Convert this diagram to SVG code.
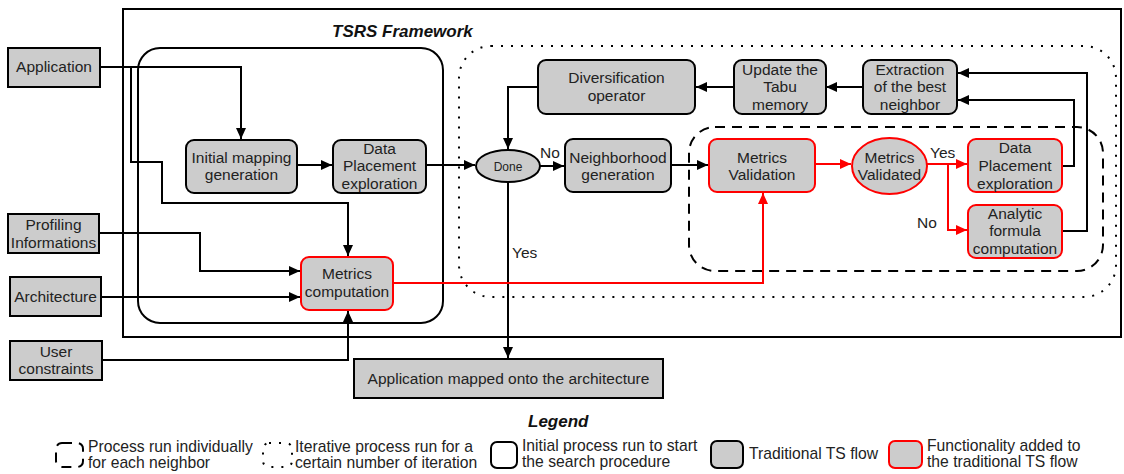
<svg xmlns="http://www.w3.org/2000/svg" width="1124" height="474" viewBox="0 0 1124 474">
<defs>
<marker id="ab" markerUnits="userSpaceOnUse" markerWidth="12" markerHeight="10" refX="11" refY="5" orient="auto"><path d="M0,0 L11,5 L0,10 Z" fill="#000"/></marker>
<marker id="ar" markerUnits="userSpaceOnUse" markerWidth="12" markerHeight="10" refX="11" refY="5" orient="auto"><path d="M0,0 L11,5 L0,10 Z" fill="#f00"/></marker>
</defs>
<style>
text{font-family:"Liberation Sans",Arial,sans-serif;font-size:15.5px;fill:#222}
.c{text-anchor:middle}
.t{font-weight:bold;font-style:italic;font-size:17px;fill:#111}
.box{fill:#ccc;stroke:#000;stroke-width:2}
.rbox{fill:#ccc;stroke:#f00;stroke-width:2}
.ln{fill:none;stroke:#000;stroke-width:2}
.rl{fill:none;stroke:#f00;stroke-width:2}
.dot{fill:none;stroke:#000;stroke-width:2;stroke-dasharray:2 8}
.dash{fill:none;stroke:#000;stroke-width:2;stroke-dasharray:10 7}
.lg{font-size:15.7px}
</style>
<g id="frame">
<rect x="123" y="9" width="998" height="328" fill="none" stroke="#000" stroke-width="2"/>
<text class="t" x="332" y="37">TSRS Framework</text>
<rect x="138" y="48" width="305" height="275" rx="22" fill="none" stroke="#000" stroke-width="2"/>
<rect x="459" y="46" width="657" height="251" rx="32" class="dot"/>
<rect x="689" y="127" width="414" height="144" rx="26" class="dash"/>
</g>
<g id="connectors">
<path class="ln" d="M100,67 H241 V139" marker-end="url(#ab)"/>
<path class="ln" d="M131,67 V162 H162 V203 H348 V256" marker-end="url(#ab)"/>
<path class="ln" d="M99,233 H200 V271 H300" marker-end="url(#ab)"/>
<path class="ln" d="M101,297 H300" marker-end="url(#ab)"/>
<path class="ln" d="M102,360 H348 V311" marker-end="url(#ab)"/>
<path class="ln" d="M297,165 H332" marker-end="url(#ab)"/>
<path class="ln" d="M426,165 H475" marker-end="url(#ab)"/>
<path class="ln" d="M540,166 H564" marker-end="url(#ab)"/>
<path class="ln" d="M671,165 H708" marker-end="url(#ab)"/>
<path class="rl" d="M815,164 H851" marker-end="url(#ar)"/>
<path class="rl" d="M927,164 H967" marker-end="url(#ar)"/>
<path class="rl" d="M948,164 V230 H967" marker-end="url(#ar)"/>
<path class="ln" d="M1062,166 H1074 V100 H958" marker-end="url(#ab)"/>
<path class="ln" d="M1062,231 H1087 V73 H958" marker-end="url(#ab)"/>
<path class="ln" d="M863,87 H826" marker-end="url(#ab)"/>
<path class="ln" d="M734,87 H696" marker-end="url(#ab)"/>
<path class="ln" d="M538,87 H508 V149" marker-end="url(#ab)"/>
<path class="ln" d="M508,182 V358" marker-end="url(#ab)"/>
<path class="rl" d="M393,283 H763 V193" marker-end="url(#ar)"/>
<text x="540" y="158">No</text>
<text x="512" y="258">Yes</text>
<text x="930" y="158">Yes</text>
<text x="917" y="228">No</text>
</g>
<g id="application"><rect class="box" x="8" y="48" width="92" height="39"/><text class="c" x="54" y="72">Application</text></g>
<g id="profiling"><rect class="box" x="8" y="214" width="91" height="39"/><text class="c" x="53.5" y="229.5">Profiling<tspan x="53.5" dy="18">Informations</tspan></text></g>
<g id="architecture"><rect class="box" x="10" y="277" width="91" height="39"/><text class="c" x="55.5" y="302">Architecture</text></g>
<g id="userconstraints"><rect class="box" x="10" y="341" width="92" height="39"/><text class="c" x="56" y="356.5">User<tspan x="56" dy="17">constraints</tspan></text></g>
<g id="initialmapping"><rect class="box" x="186" y="140" width="111" height="53" rx="8"/><text class="c" x="241.5" y="162.5">Initial mapping<tspan x="241.5" dy="17.5">generation</tspan></text></g>
<g id="dataplacement1"><rect class="box" x="333" y="140" width="93" height="53" rx="8"/><text class="c" x="379.5" y="153.5">Data<tspan x="379.5" dy="17.5">Placement</tspan><tspan x="379.5" dy="17.5">exploration</tspan></text></g>
<g id="metricscomputation"><rect class="rbox" x="301" y="257" width="92" height="53" rx="8"/><text class="c" x="347" y="278.5">Metrics<tspan x="347" dy="18">computation</tspan></text></g>
<g id="appmapped"><rect class="box" x="354" y="359" width="309" height="39"/><text class="c" x="508.5" y="383.5">Application mapped onto the architecture</text></g>
<g id="diversification"><rect class="box" x="538" y="60" width="157" height="54" rx="8"/><text class="c" x="616.5" y="82.5">Diversification<tspan x="616.5" dy="18">operator</tspan></text></g>
<g id="updatetabu"><rect class="box" x="734" y="60" width="92" height="54" rx="8"/><text class="c" x="780" y="74.5">Update the<tspan x="780" dy="17.5">Tabu</tspan><tspan x="780" dy="17.5">memory</tspan></text></g>
<g id="extraction"><rect class="box" x="863" y="60" width="94" height="54" rx="8"/><text class="c" x="910" y="74.5">Extraction<tspan x="910" dy="17.5">of the best</tspan><tspan x="910" dy="17.5">neighbor</tspan></text></g>
<g id="done"><ellipse class="box" cx="508" cy="166" rx="32" ry="16"/><text class="c" x="508" y="170.5" style="font-size:12px">Done</text></g>
<g id="neighborhood"><rect class="box" x="565" y="139" width="106" height="53" rx="8"/><text class="c" x="618" y="162.5">Neighborhood<tspan x="618" dy="17.5">generation</tspan></text></g>
<g id="metricsvalidation"><rect class="rbox" x="709" y="139" width="106" height="53" rx="8"/><text class="c" x="762" y="162.5">Metrics<tspan x="762" dy="17.5">Validation</tspan></text></g>
<g id="metricsvalidated"><ellipse class="rbox" cx="889.5" cy="166" rx="37.5" ry="28"/><text class="c" x="889.5" y="162.5">Metrics<tspan x="889.5" dy="17.5">Validated</tspan></text></g>
<g id="dataplacement2"><rect class="rbox" x="968" y="139" width="94" height="53" rx="8"/><text class="c" x="1015" y="152.5">Data<tspan x="1015" dy="18">Placement</tspan><tspan x="1015" dy="18">exploration</tspan></text></g>
<g id="analytic"><rect class="rbox" x="968" y="205" width="94" height="53" rx="8"/><text class="c" x="1015" y="218.5">Analytic<tspan x="1015" dy="17.5">formula</tspan><tspan x="1015" dy="17.5">computation</tspan></text></g>
<g id="legend">
<text class="t" x="528" y="427">Legend</text>
<rect x="56" y="443" width="27" height="24" rx="6" class="dash" stroke-dasharray="8 8"/>
<text class="lg" x="88" y="452">Process run individually<tspan x="88" dy="16">for each neighbor</tspan></text>
<rect x="263" y="443" width="29" height="24" rx="6" class="dot" stroke-dasharray="2 6"/>
<text class="lg" x="295" y="452">Iterative process run for a<tspan x="295" dy="16">certain number of iteration</tspan></text>
<rect x="491" y="442" width="26" height="26" rx="6" fill="#fff" stroke="#000" stroke-width="2"/>
<text class="lg" x="522" y="451">Initial process run to start<tspan x="522" dy="16">the search procedure</tspan></text>
<rect class="box" x="711" y="441" width="32" height="27" rx="6"/>
<text class="lg" x="749" y="459">Traditional TS flow</text>
<rect class="rbox" x="889" y="441" width="33" height="27" rx="6"/>
<text class="lg" x="927" y="451">Functionality added to<tspan x="927" dy="16">the traditional TS flow</tspan></text>
</g>
</svg>
